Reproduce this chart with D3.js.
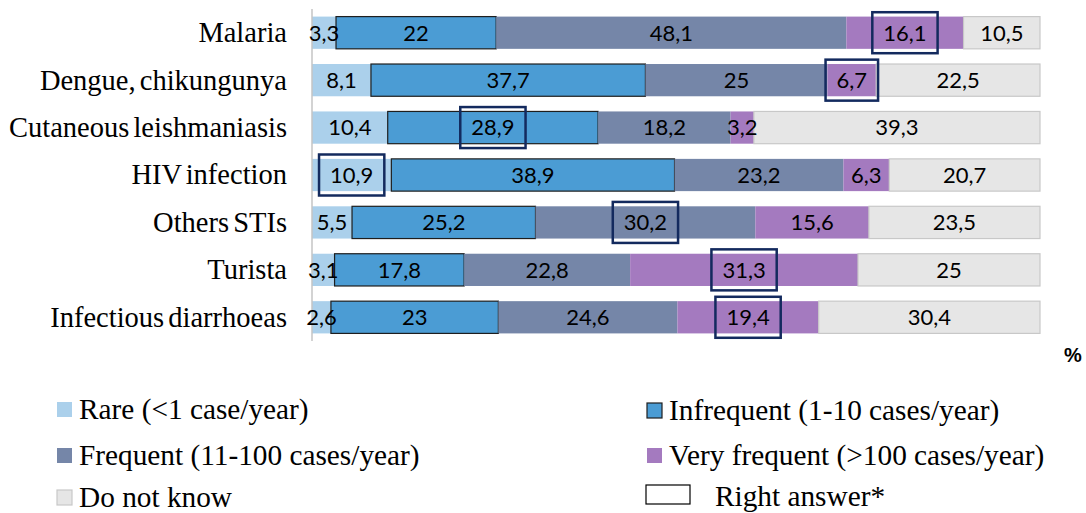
<!DOCTYPE html>
<html><head><meta charset="utf-8">
<script src="https://cdn.jsdelivr.net/npm/d3@7"></script>
<style>body{margin:0;background:#fff}svg{display:block}</style>
</head><body><svg id="c" width="1086" height="513"></svg>
<script>
const categories = ["Malaria","Dengue, chikungunya","Cutaneous leishmaniasis","HIV infection","Others STIs","Turista","Infectious diarrhoeas"];
const seriesNames = ["Rare (<1 case/year)","Infrequent (1-10 cases/year)","Frequent (11-100 cases/year)","Very frequent (>100 cases/year)","Do not know"];
const rare = [3.3, 8.1, 10.4, 10.9, 5.5, 3.1, 2.6];
const infrequent = [22, 37.7, 28.9, 38.9, 25.2, 17.8, 23];
const frequent = [48.1, 25, 18.2, 23.2, 30.2, 22.8, 24.6];
const veryFrequent = [16.1, 6.7, 3.2, 6.3, 15.6, 31.3, 19.4];
const doNotKnow = [10.5, 22.5, 39.3, 20.7, 23.5, 25, 30.4];
// index of the series that is the right answer, per category
const rightAnswer = [3, 3, 1, 0, 2, 3, 3];

const values = [rare, infrequent, frequent, veryFrequent, doNotKnow];
const colors = ["#abd0eb", "#4b9cd4", "#7586a8", "#a47abf", "#e6e6e6"];
const strokes = ["none", "#1e1e1e", "none", "none", "#c8c8c8"];

const svg = d3.select("#c");
const x = d3.scaleLinear().domain([0, 100]).range([312, 1040]);
const y = d3.scaleBand().domain(categories).range([9, 341]).paddingInner(0.32).paddingOuter(0.16);

const rows = categories.map((c, i) => {
  let acc = 0;
  return values.map((arr, s) => { const v = arr[i]; const seg = {cat: c, s, v, x0: acc, x1: acc + v}; acc += v; return seg; });
});
const segs = rows.flat();

svg.append("g").selectAll("rect").data(segs).join("rect")
  .attr("x", d => x(d.x0)).attr("width", d => x(d.x1) - x(d.x0))
  .attr("y", d => y(d.cat)).attr("height", y.bandwidth())
  .attr("fill", d => colors[d.s])
  .attr("stroke", d => strokes[d.s]).attr("stroke-width", 1.2);

// axis line
svg.append("line").attr("x1", 312).attr("x2", 312).attr("y1", 9).attr("y2", 341)
  .attr("stroke", "#c4c4c4").attr("stroke-width", 1.5);

// category labels
svg.append("g").selectAll("text").data(categories).join("text")
  .attr("x", 287).attr("y", d => y(d) + y.bandwidth() / 2)
  .attr("dy", "0.33em").attr("text-anchor", "end")
  .style("font-family", "'Liberation Serif','Times New Roman',serif").style("font-size", "28.5px")
  .style("word-spacing", "-3px")
  .text(d => d);

// value labels
const lbl = svg.append("g").selectAll("text").data(segs).join("text")
  .attr("x", d => x((d.x0 + d.x1) / 2)).attr("y", d => y(d.cat) + y.bandwidth() / 2)
  .attr("dy", "0.36em").attr("text-anchor", "middle")
  .style("font-family", "Lato, sans-serif").style("font-size", "22px").attr("fill", "#000")
  .text(d => String(d.v).replace(".", ","));

// right answer boxes
lbl.filter((d, i) => rightAnswer[categories.indexOf(d.cat)] === d.s).each(function(d) {
  const w = this.getComputedTextLength() + 22;
  const cx = x((d.x0 + d.x1) / 2), cy = y(d.cat) + y.bandwidth() / 2;
  svg.append("rect").attr("x", cx - w / 2).attr("y", cy - 20.5).attr("width", w).attr("height", 41)
    .attr("fill", "none").attr("stroke", "#132a5e").attr("stroke-width", 2.5);
});

// % label
svg.append("text").attr("x", 1073).attr("y", 362).attr("text-anchor", "middle")
  .style("font-family", "'Liberation Sans',Arial,sans-serif").style("font-size", "20px").style("font-weight", "bold")
  .text("%");

// legend
const legend = [
  {name: seriesNames[0], s: 0, x: 57, y: 402},
  {name: seriesNames[1], s: 1, x: 647, y: 403},
  {name: seriesNames[2], s: 2, x: 57, y: 448},
  {name: seriesNames[3], s: 3, x: 647, y: 448},
  {name: seriesNames[4], s: 4, x: 57, y: 490}
];
const lg = svg.append("g").selectAll("g").data(legend).join("g");
lg.append("rect").attr("x", d => d.x).attr("y", d => d.y).attr("width", 15).attr("height", 15)
  .attr("fill", d => colors[d.s]).attr("stroke", d => strokes[d.s]).attr("stroke-width", 1.2);
lg.append("text").attr("x", d => d.x + 22).attr("y", d => d.y + 17)
  .style("font-family", "'Liberation Serif','Times New Roman',serif").style("font-size", "29.3px")
  .text(d => d.name);
svg.append("rect").attr("x", 646).attr("y", 485).attr("width", 44).attr("height", 19)
  .attr("fill", "none").attr("stroke", "#000").attr("stroke-width", 1.2);
svg.append("text").attr("x", 715).attr("y", 506)
  .style("font-family", "'Liberation Serif','Times New Roman',serif").style("font-size", "29.3px")
  .text("Right answer*");
</script></body></html>
